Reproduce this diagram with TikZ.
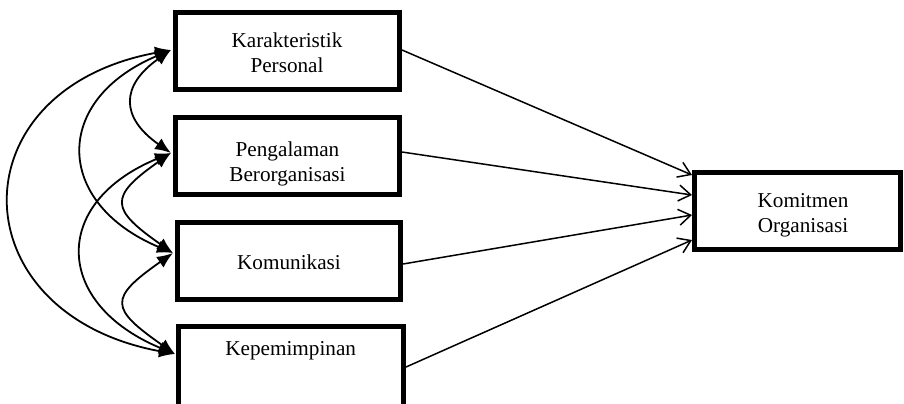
\documentclass[tikz,border=0pt]{standalone}
\usepackage{fontspec}
\setmainfont{Liberation Serif}
\usetikzlibrary{arrows.meta,calc}
\begin{document}
\begin{tikzpicture}[x=0.5pt,y=-0.5pt,
  box/.style={draw,line width=2.5pt,minimum width=112pt,minimum height=38.5pt,inner sep=0pt},
  lbl/.style={font=\fontsize{10.6}{12.5}\selectfont,align=center,inner sep=0pt},
  biarrow/.style={line width=0.9pt,{Latex[length=8pt,width=6.5pt]}-{Latex[length=8pt,width=6.5pt]}},
  effect/.style={line width=0.75pt,-{Straight Barb[length=6pt,width=8pt]}}]
\useasboundingbox (0,0) rectangle (904,403);
% boxes
\node[box] (b1) at (287.5,51) {};
\node[box] (b2) at (287.5,156) {};
\node[box,minimum width=111.5pt] (b3) at (289,261) {};
\node[box,minimum width=112.5pt,minimum height=40pt] (b4) at (291,366) {};
\node[box,minimum width=103pt] (k) at (797.5,211) {};
% labels
\node[lbl] (t1) at (287,52.5) {Karakteristik\\Personal};
\node[lbl] (t2) at (287.5,163.5) {Pengalaman\\Berorganisasi};
\node[lbl] (t3) at (289,262.5) {Komunikasi};
\node[lbl] (t4) at (290.7,350.6) {Kepemimpinan};
\node[lbl] (tk) at (803,214.8) {Komitmen\\Organisasi};
% effects
\draw[effect] ($(b1.east)+(0,-1)$) -- ($(k.west)+(0,-36)$);
\draw[effect] ($(b2.east)+(0,-4)$) -- ($(k.west)+(0,-16)$);
\draw[effect] ($(b3.east)+(0,3)$) -- ($(k.west)+(0,4)$);
\draw[effect] ($(b4.east)+(0,1)$) -- ($(k.west)+(0,29)$);
% correlations
\coordinate (p1) at ($(b1.west)+(-2,-1)$);
\coordinate (p2) at ($(b2.west)+(-2,-3)$);
\coordinate (p3) at ($(b3.west)+(-2,-8)$);
\coordinate (p4) at ($(b4.west)+(-1,-12)$);
\draw[biarrow] (p1) .. controls +(-50.7,35.5) and +(-50.7,-35.5) .. (p2);
\draw[biarrow] (p2) .. controls +(-62.7,43.9) and +(-62.7,-43.9) .. (p3);
\draw[biarrow] (p3) .. controls +(-65,45.5) and +(-65,-45.5) .. (p4);
\draw[biarrow] (p1) .. controls +(-119,50) and +(-119,-50) .. (p3);
\draw[biarrow] (p2) .. controls +(-121,50) and +(-121,-50) .. (p4);
\draw[biarrow] (p1) .. controls +(-216.7,40) and +(-216.7,-40) .. (p4);
\end{tikzpicture}
\end{document}
